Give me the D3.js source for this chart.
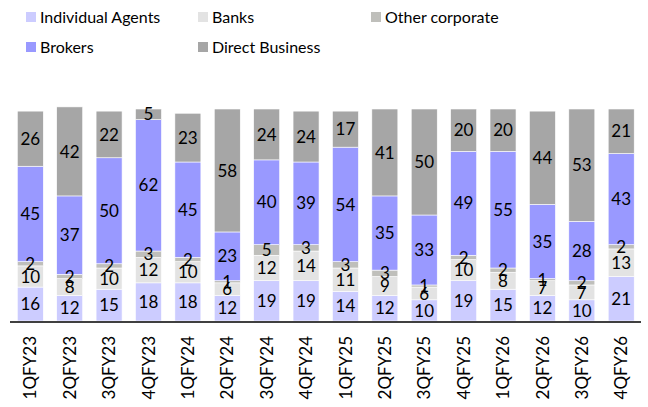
<!DOCTYPE html>
<html>
<head>
<meta charset="utf-8">
<script src="https://cdn.jsdelivr.net/npm/d3@7"></script>
<style>
  body { margin: 0; background: #fff; }
  text { font-family: Lato, "Open Sans", sans-serif; fill: #000; }
</style>
</head>
<body>
<div id="chart"></div>
<script>
const quarters = ["1QFY23","2QFY23","3QFY23","4QFY23","1QFY24","2QFY24","3QFY24","4QFY24",
                  "1QFY25","2QFY25","3QFY25","4QFY25","1QFY26","2QFY26","3QFY26","4QFY26"];
const individualAgents = [16,12,15,18,18,12,19,19,14,12,10,19,15,12,10,21];
const banks            = [10, 8,10,12,10, 6,12,14,11, 9, 6,10, 8, 7, 7,13];
const otherCorporate   = [ 2, 2, 2, 3, 2, 1, 5, 3, 3, 3, 1, 2, 2, 1, 2, 2];
const brokers          = [45,37,50,62,45,23,40,39,54,35,33,49,55,35,28,43];
const directBusiness   = [26,42,22, 5,23,58,24,24,17,41,50,20,20,44,53,21];

const seriesNames = ["Individual Agents","Banks","Other corporate","Brokers","Direct Business"];
const seriesVals = [individualAgents, banks, otherCorporate, brokers, directBusiness];
const colors = ["#ccccff","#e3e3e3","#bfbfbb","#9999ff","#a6a6a6"];

const width = 648, height = 407;
const svg = d3.select("#chart").append("svg")
  .attr("width", width)
  .attr("height", height);

const rows = quarters.map((q, i) => {
  const r = { q: q };
  seriesNames.forEach((s, k) => r[s] = seriesVals[k][i]);
  return r;
});

const x = d3.scaleBand().domain(quarters).range([10.6, 640.9]).paddingInner(0.34).paddingOuter(0.17);
const y = d3.scaleLinear().domain([0, 100]).range([321, 109]);

const stacked = d3.stack().keys(seriesNames)(rows);

// bars
svg.append("g")
  .selectAll("g")
  .data(stacked)
  .join("g")
  .attr("fill", (d, i) => colors[i])
  .selectAll("rect")
  .data(d => d)
  .join("rect")
  .attr("x", d => x(d.data.q))
  .attr("y", d => y(d[1]))
  .attr("width", x.bandwidth())
  .attr("height", d => y(d[0]) - y(d[1]))
  .attr("stroke", "#fff")
  .attr("stroke-width", 0.6);

// value labels, drawn above all bars
svg.append("g")
  .selectAll("g")
  .data(stacked)
  .join("g")
  .selectAll("text")
  .data(d => d.map(v => ({ v: v, key: d.key })))
  .join("text")
  .attr("x", d => x(d.v.data.q) + x.bandwidth() / 2)
  .attr("y", d => y((d.v[0] + d.v[1]) / 2))
  .attr("dy", "0.36em")
  .attr("text-anchor", "middle")
  .style("font-size", "17px")
  .text(d => d.v.data[d.key]);

// x axis
const xAxis = svg.append("g")
  .attr("transform", "translate(0,322)")
  .call(d3.axisBottom(x).tickSize(0).tickSizeOuter(0));
xAxis.select(".domain").attr("stroke", "#000").attr("stroke-width", 1.5)
  .attr("d", "M10,0H641");
xAxis.selectAll(".tick text")
  .attr("transform", "rotate(-90)")
  .attr("x", -14)
  .attr("y", 0)
  .attr("dy", "0.36em")
  .attr("text-anchor", "end")
  .style("font-size", "17px")
  .style("font-family", "Lato, sans-serif");

// legend
const legendPos = [[26, 17], [198, 17], [371, 17], [26, 47], [198, 47]];
const legend = svg.append("g")
  .selectAll("g")
  .data(seriesNames)
  .join("g")
  .attr("transform", (d, i) => "translate(" + legendPos[i][0] + "," + legendPos[i][1] + ")");
legend.append("rect")
  .attr("x", 0).attr("y", -5)
  .attr("width", 10).attr("height", 10)
  .attr("fill", (d, i) => colors[i]);
legend.append("text")
  .attr("x", 14)
  .attr("dy", "0.36em")
  .style("font-size", "16px")
  .text(d => d);
</script>
</body>
</html>
